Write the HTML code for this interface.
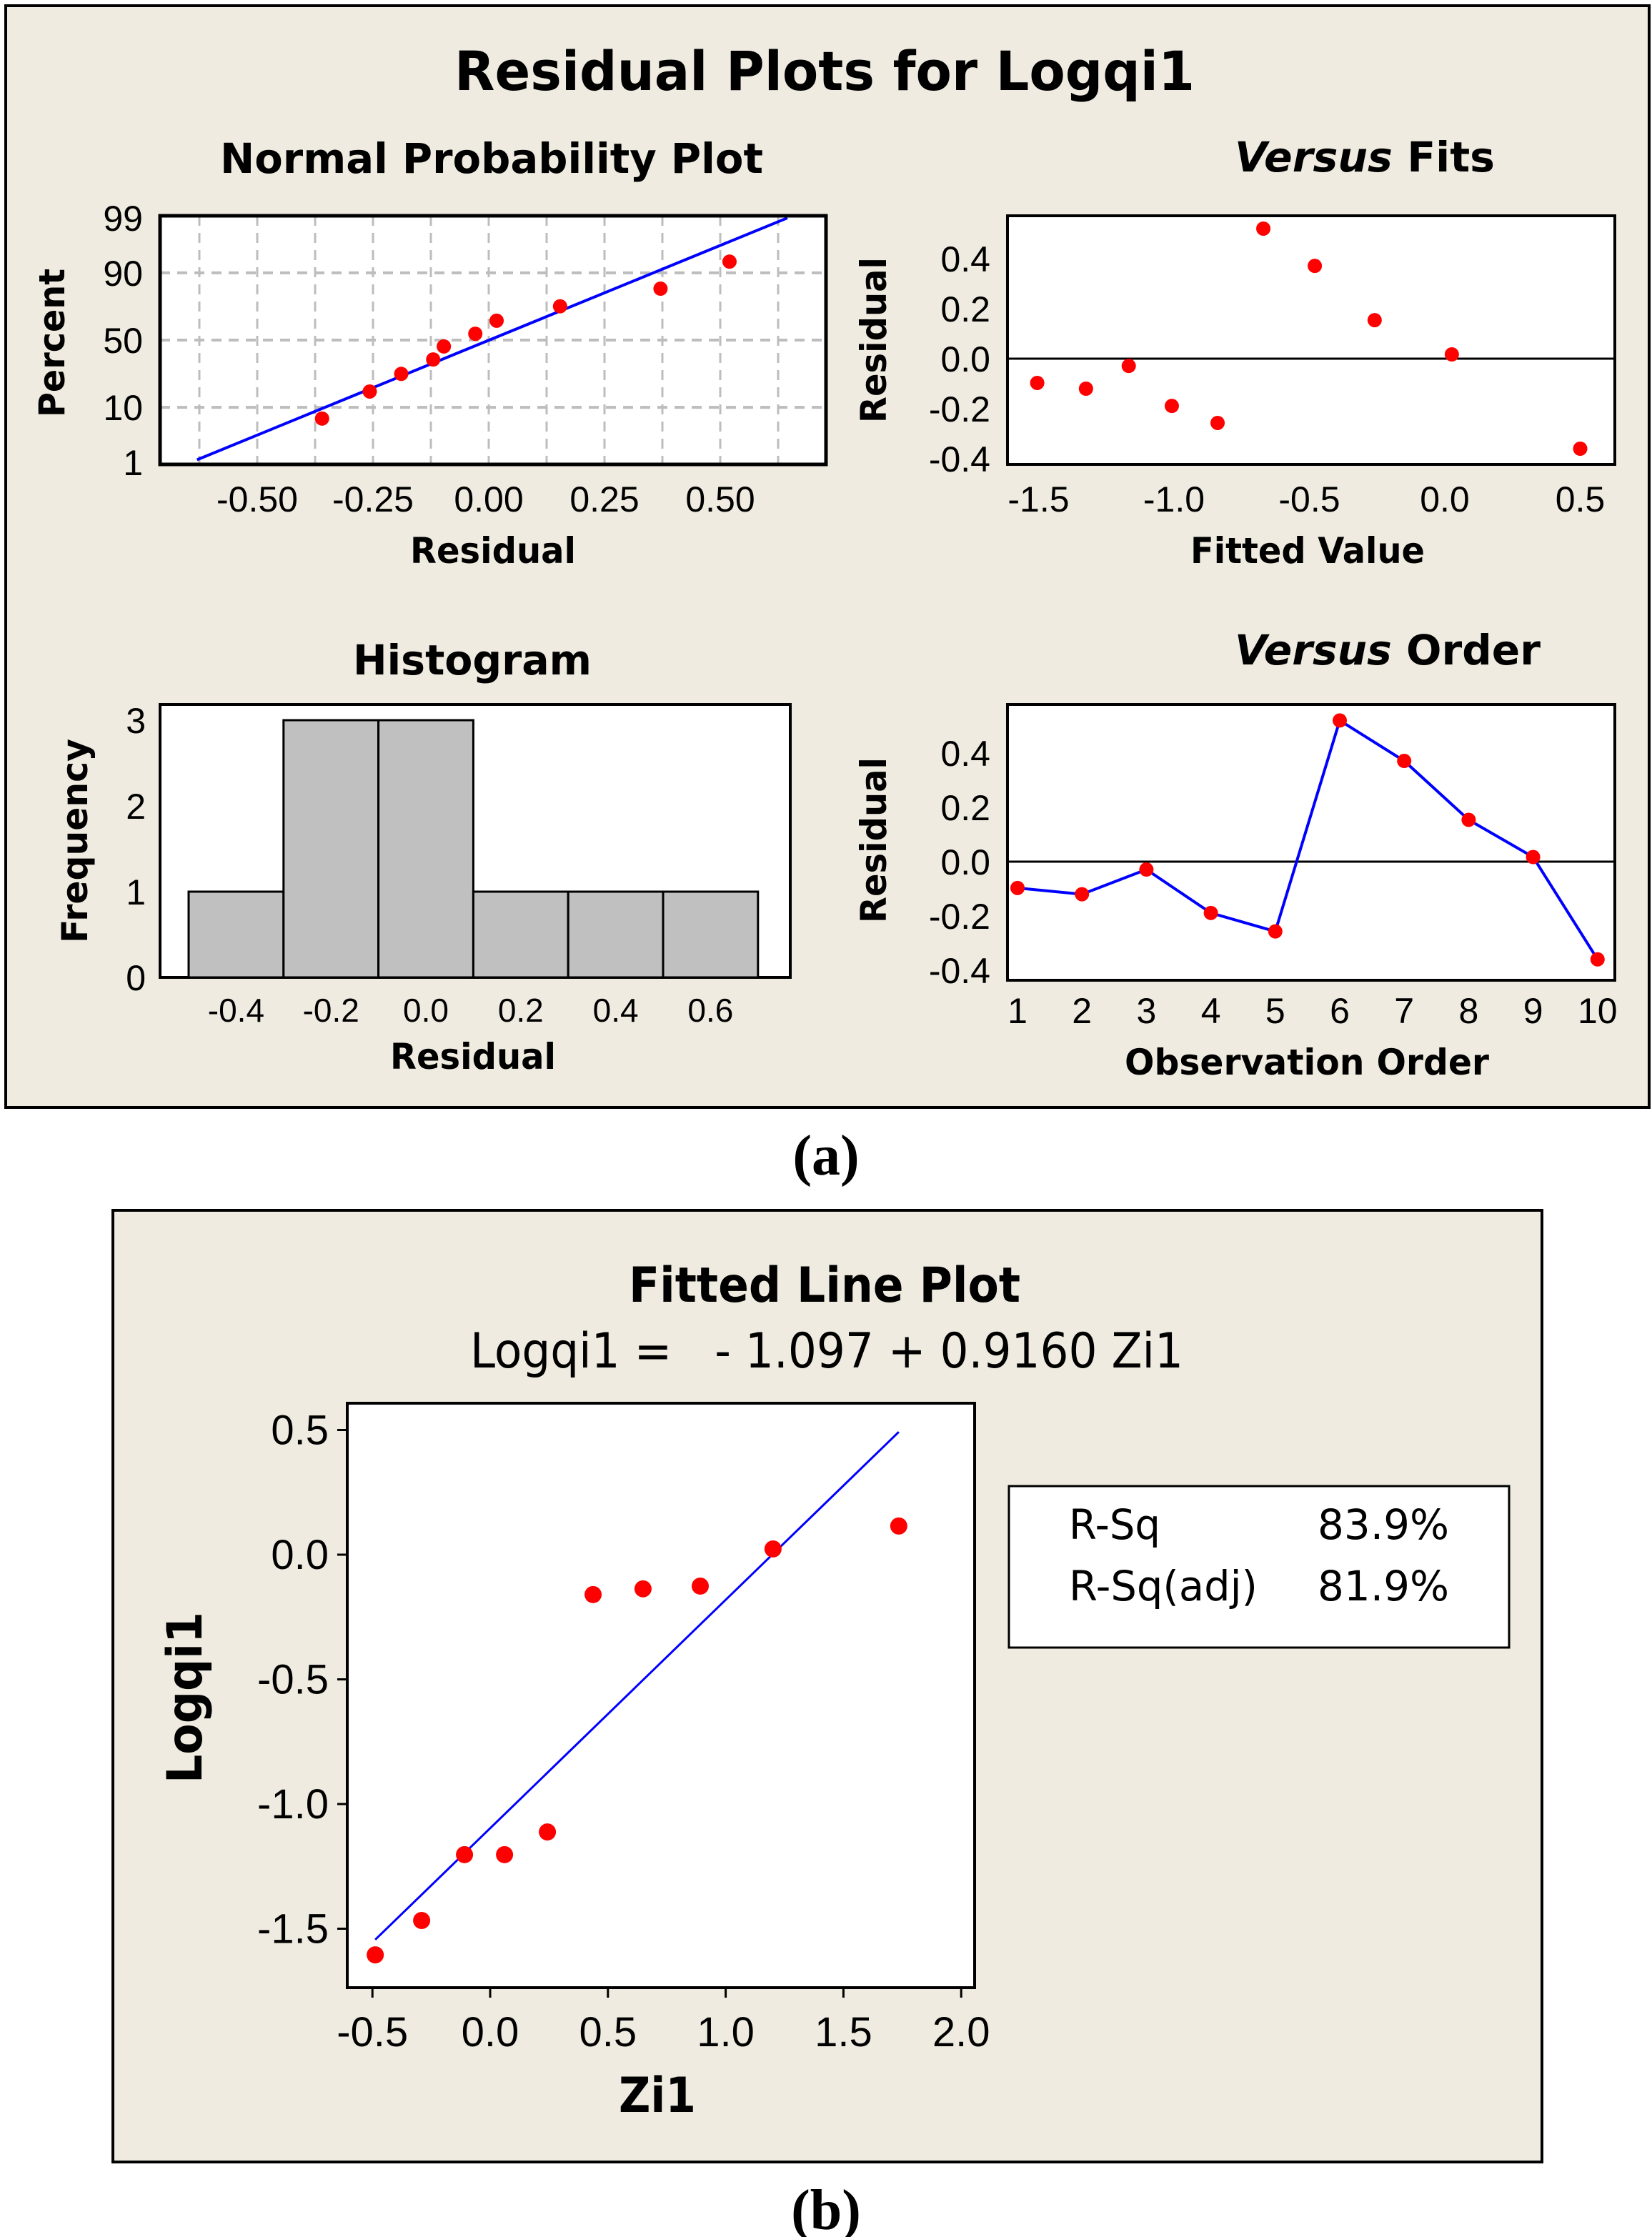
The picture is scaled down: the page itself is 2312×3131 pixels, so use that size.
<!DOCTYPE html>
<html><head><meta charset="utf-8"><style>
html,body{margin:0;padding:0;background:#fff}
svg{display:block}
text{font-family:"Liberation Sans",sans-serif}
.t{font-family:"DejaVu Sans","Liberation Sans",sans-serif}
</style></head><body>
<svg id="s" width="2312" height="3131" viewBox="0 0 1156 1565.5" xmlns="http://www.w3.org/2000/svg">
<rect x="4" y="4" width="1150" height="771" fill="#efebe0" stroke="#000" stroke-width="2"/>
<text class="t" x="318" y="63" font-size="38" font-weight="bold" textLength="518" lengthAdjust="spacingAndGlyphs">Residual Plots for Logqi1</text>
<!-- normal plot -->
<text class="t" x="154" y="121" font-size="29" font-weight="bold" textLength="380" lengthAdjust="spacingAndGlyphs">Normal Probability Plot</text>
<rect x="112" y="151" width="466" height="174" fill="#fff"/>
<g id="npGrid"></g><g id="npLine"></g><g id="npPts"></g>
<rect x="112" y="151" width="466" height="174" fill="none" stroke="#000" stroke-width="2.5"/>
<g id="npTicks" font-size="25"></g>
<text class="t" x="287" y="394" font-size="25" font-weight="bold" textLength="116" lengthAdjust="spacingAndGlyphs">Residual</text>
<text class="t" transform="translate(45,292) rotate(-90)" font-size="25" font-weight="bold" textLength="104" lengthAdjust="spacingAndGlyphs">Percent</text>
<!-- versus fits -->
<text class="t" x="864" y="120" font-size="29" font-weight="bold" textLength="182" lengthAdjust="spacingAndGlyphs"><tspan font-style="italic">Versus</tspan> Fits</text>
<rect x="705" y="151" width="425" height="174" fill="#fff" stroke="#000" stroke-width="2"/>
<g id="vf" font-size="25"></g>
<text class="t" x="833" y="394" font-size="25" font-weight="bold" textLength="164" lengthAdjust="spacingAndGlyphs">Fitted Value</text>
<text class="t" transform="translate(620,296) rotate(-90)" font-size="25" font-weight="bold" textLength="116" lengthAdjust="spacingAndGlyphs">Residual</text>
<!-- histogram -->
<text class="t" x="247" y="472" font-size="29" font-weight="bold" textLength="167" lengthAdjust="spacingAndGlyphs">Histogram</text>
<rect x="112" y="493" width="441" height="191" fill="#fff" stroke="#000" stroke-width="2"/>
<g id="hist" font-size="23"></g>
<text class="t" x="273" y="748" font-size="25" font-weight="bold" textLength="116" lengthAdjust="spacingAndGlyphs">Residual</text>
<text class="t" transform="translate(61,660) rotate(-90)" font-size="25" font-weight="bold" textLength="143" lengthAdjust="spacingAndGlyphs">Frequency</text>
<!-- versus order -->
<text class="t" x="864" y="465" font-size="29" font-weight="bold" textLength="214" lengthAdjust="spacingAndGlyphs"><tspan font-style="italic">Versus</tspan> Order</text>
<rect x="705" y="493" width="425" height="193" fill="#fff" stroke="#000" stroke-width="2"/>
<g id="vo" font-size="25"></g>
<text class="t" x="787" y="752" font-size="25" font-weight="bold" textLength="255" lengthAdjust="spacingAndGlyphs">Observation Order</text>
<text class="t" transform="translate(620,646) rotate(-90)" font-size="25" font-weight="bold" textLength="116" lengthAdjust="spacingAndGlyphs">Residual</text>
<text x="578" y="822" font-size="40" font-weight="bold" text-anchor="middle" style="font-family:'Liberation Serif',serif">(a)</text>
<!-- panel b -->
<rect x="79" y="847" width="1000" height="666" fill="#efebe0" stroke="#000" stroke-width="2"/>
<text class="t" x="440" y="911" font-size="34" font-weight="bold" textLength="274" lengthAdjust="spacingAndGlyphs">Fitted Line Plot</text>
<text class="t" x="329" y="957" font-size="34" textLength="499" lengthAdjust="spacingAndGlyphs" xml:space="preserve">Logqi1 =   - 1.097 + 0.9160 Zi1</text>
<rect x="243" y="982" width="439" height="409" fill="#fff" stroke="#000" stroke-width="2"/>
<g id="fl" font-size="29"></g>
<text class="t" x="433" y="1478" font-size="34" font-weight="bold" textLength="54" lengthAdjust="spacingAndGlyphs">Zi1</text>
<text class="t" transform="translate(141,1248) rotate(-90)" font-size="34" font-weight="bold" textLength="120" lengthAdjust="spacingAndGlyphs">Logqi1</text>
<rect x="706" y="1040" width="350" height="113" fill="#fff" stroke="#000" stroke-width="1.5"/>
<text class="t" x="748" y="1077" font-size="29" textLength="64" lengthAdjust="spacingAndGlyphs">R-Sq</text>
<text class="t" x="922" y="1077" font-size="29" textLength="92" lengthAdjust="spacingAndGlyphs">83.9%</text>
<text class="t" x="748" y="1120" font-size="29" textLength="132" lengthAdjust="spacingAndGlyphs">R-Sq(adj)</text>
<text class="t" x="922" y="1120" font-size="29" textLength="92" lengthAdjust="spacingAndGlyphs">81.9%</text>
<text x="578" y="1560" font-size="40" font-weight="bold" text-anchor="middle" style="font-family:'Liberation Serif',serif">(b)</text>
</svg>
<script>
// data
const residuals = [-0.097,-0.12,-0.029,-0.189,-0.257,0.52,0.371,0.154,0.017,-0.36];
const fittedValues = [-1.505,-1.325,-1.167,-1.008,-0.839,-0.670,-0.480,-0.259,0.026,0.5];
const histCounts = [1,3,3,1,1,1];
const histCenters = [-0.4,-0.2,0,0.2,0.4,0.6];
const zi1 = [-0.488,-0.291,-0.109,0.061,0.243,0.437,0.649,0.892,1.201,1.735];
const logqi1 = [-1.605,-1.467,-1.203,-1.203,-1.112,-0.16,-0.137,-0.126,0.023,0.115];
const npXTicks = [-0.5,-0.25,0,0.25,0.5];
const npYTicks = [1,10,50,90,99];
const vfXTicks = [-1.5,-1.0,-0.5,0.0,0.5];
const resTicks = [0.4,0.2,0.0,-0.2,-0.4];
const histYTicks = [0,1,2,3];
const flXTicks = [-0.5,0.0,0.5,1.0,1.5,2.0];
const flYTicks = [0.5,0.0,-0.5,-1.0,-1.5];
const intercept = -1.097, slope = 0.9160;

const NS="http://www.w3.org/2000/svg";
function mk(parent,tag,attrs,txt){const e=document.createElementNS(NS,tag);for(const k in attrs)e.setAttribute(k,attrs[k]);if(txt!==undefined)e.textContent=txt;document.getElementById(parent).appendChild(e);return e;}
function fmt(v,d){return v.toFixed(d);}
function qnorm(p){const a=[-39.6968302866538,220.946098424521,-275.928510446969,138.357751867269,-30.6647980661472,2.50662827745924],b=[-54.4760987982241,161.585836858041,-155.698979859887,66.8013118877197,-13.2806815528857],c=[-0.00778489400243029,-0.322396458041136,-2.40075827716184,-2.54973253934373,4.37466414146377,2.93816398269878],d=[0.00778469570904146,0.32246712907004,2.445134137143,3.75440866190742];let q,r;if(p<0.02425){q=Math.sqrt(-2*Math.log(p));return(((((c[0]*q+c[1])*q+c[2])*q+c[3])*q+c[4])*q+c[5])/((((d[0]*q+d[1])*q+d[2])*q+d[3])*q+1);}if(p>1-0.02425){q=Math.sqrt(-2*Math.log(1-p));return-(((((c[0]*q+c[1])*q+c[2])*q+c[3])*q+c[4])*q+c[5])/((((d[0]*q+d[1])*q+d[2])*q+d[3])*q+1);}q=p-0.5;r=q*q;return(((((a[0]*r+a[1])*r+a[2])*r+a[3])*r+a[4])*r+a[5])*q/(((((b[0]*r+b[1])*r+b[2])*r+b[3])*r+b[4])*r+1);}

// normal probability plot
const npX=v=>342+v*324, npY=z=>238-z*36.7;
for(let g=-0.625;g<=0.626;g+=0.125){const l=mk('npGrid','line',{x1:npX(g),x2:npX(g),y1:151,y2:325,stroke:'#bdbdbd','stroke-width':1.5,'stroke-dasharray':'7,5'});

}
npYTicks.forEach(p=>{const y=npY(qnorm(p/100));
if(p!==1&&p!==99){const l=mk('npGrid','line',{x1:112,x2:578,y1:y,y2:y,stroke:'#bdbdbd','stroke-width':2,'stroke-dasharray':'7,5'});

}
const t=mk('npTicks','text',{x:100,y:y+9,'text-anchor':'end'},String(p));

});
npXTicks.forEach(v=>{const t=mk('npTicks','text',{x:npX(v),y:358,'text-anchor':'middle'},fmt(v,2));

});
const n=residuals.length, mean=residuals.reduce((a,b)=>a+b,0)/n;
const sd=Math.sqrt(residuals.reduce((a,b)=>a+(b-mean)**2,0)/(n-1));
{const zLo=Math.max((-0.63-mean)/sd,-2.37), zHi=Math.min(2.37,(0.645-mean)/sd);
const l=mk('npLine','line',{x1:npX(mean+sd*zLo),y1:npY(zLo),x2:npX(mean+sd*zHi),y2:npY(zHi),stroke:'#0000ff','stroke-width':2});

}
const sorted=[...residuals].sort((a,b)=>a-b);
sorted.forEach((r,i)=>{const p=(i+1-0.3)/(n+0.4);const c=mk('npPts','circle',{cx:npX(r),cy:npY(qnorm(p)),r:5,fill:'#ff0000'});

});

// versus fits
const vfX=v=>1011+v*189.5, resY=v=>251-v*175;
{const l=mk('vf','line',{x1:705,x2:1130,y1:resY(0),y2:resY(0),stroke:'#000','stroke-width':1.5});

}
resTicks.forEach(v=>{const t=mk('vf','text',{x:693,y:resY(v)+9,'text-anchor':'end'},fmt(v,1));

});
vfXTicks.forEach(v=>{const t=mk('vf','text',{x:vfX(v),y:358,'text-anchor':'middle'},fmt(v,1));

});
fittedValues.forEach((f,i)=>{const c=mk('vf','circle',{cx:vfX(f),cy:resY(residuals[i]),r:5,fill:'#ff0000'});

});

// histogram
const hX=v=>298+v*332, hY=v=>684-v*60;
histCenters.forEach((c,i)=>{const r=mk('hist','rect',{x:hX(c-0.1),y:hY(histCounts[i]),width:hX(c+0.1)-hX(c-0.1),height:hY(0)-hY(histCounts[i]),fill:'#c0c0c0',stroke:'#000','stroke-width':1.5});


const t=mk('hist','text',{x:hX(c),y:715,'text-anchor':'middle'},fmt(c,1));

});
histYTicks.forEach(v=>{const t=mk('hist','text',{x:102,y:hY(v)+9,'text-anchor':'end','font-size':25},String(v));

});

// versus order
const voX=i=>712+(i-1)*45.1, voY=v=>603-v*190;
{const l=mk('vo','line',{x1:705,x2:1130,y1:voY(0),y2:voY(0),stroke:'#000','stroke-width':1.5});

}
{const p=mk('vo','polyline',{points:residuals.map((r,i)=>voX(i+1)+','+voY(r)).join(' '),fill:'none',stroke:'#0000ff','stroke-width':2});

}
residuals.forEach((r,i)=>{const c=mk('vo','circle',{cx:voX(i+1),cy:voY(r),r:5,fill:'#ff0000'});


const t=mk('vo','text',{x:voX(i+1),y:716,'text-anchor':'middle'},String(i+1));

});
resTicks.forEach(v=>{const t=mk('vo','text',{x:693,y:voY(v)+9,'text-anchor':'end'},fmt(v,1));

});

// fitted line plot
const fX=v=>343+v*164.8, fY=v=>1088-v*174.5;
flXTicks.forEach(v=>{const l=mk('fl','line',{x1:fX(v),x2:fX(v),y1:1391,y2:1398,stroke:'#000','stroke-width':1.5});


const t=mk('fl','text',{x:fX(v),y:1432,'text-anchor':'middle'},fmt(v,1));

});
flYTicks.forEach(v=>{const l=mk('fl','line',{x1:236,x2:243,y1:fY(v),y2:fY(v),stroke:'#000','stroke-width':1.5});


const t=mk('fl','text',{x:230,y:fY(v)+10,'text-anchor':'end'},fmt(v,1));

});
{const x0=Math.min(...zi1),x1=Math.max(...zi1);
const l=mk('fl','line',{x1:fX(x0),y1:fY(intercept+slope*x0),x2:fX(x1),y2:fY(intercept+slope*x1),stroke:'#0000ff','stroke-width':1.5});

}
zi1.forEach((x,i)=>{const c=mk('fl','circle',{cx:fX(x),cy:fY(logqi1[i]),r:6,fill:'#ff0000'});

});
</script>
</body></html>
